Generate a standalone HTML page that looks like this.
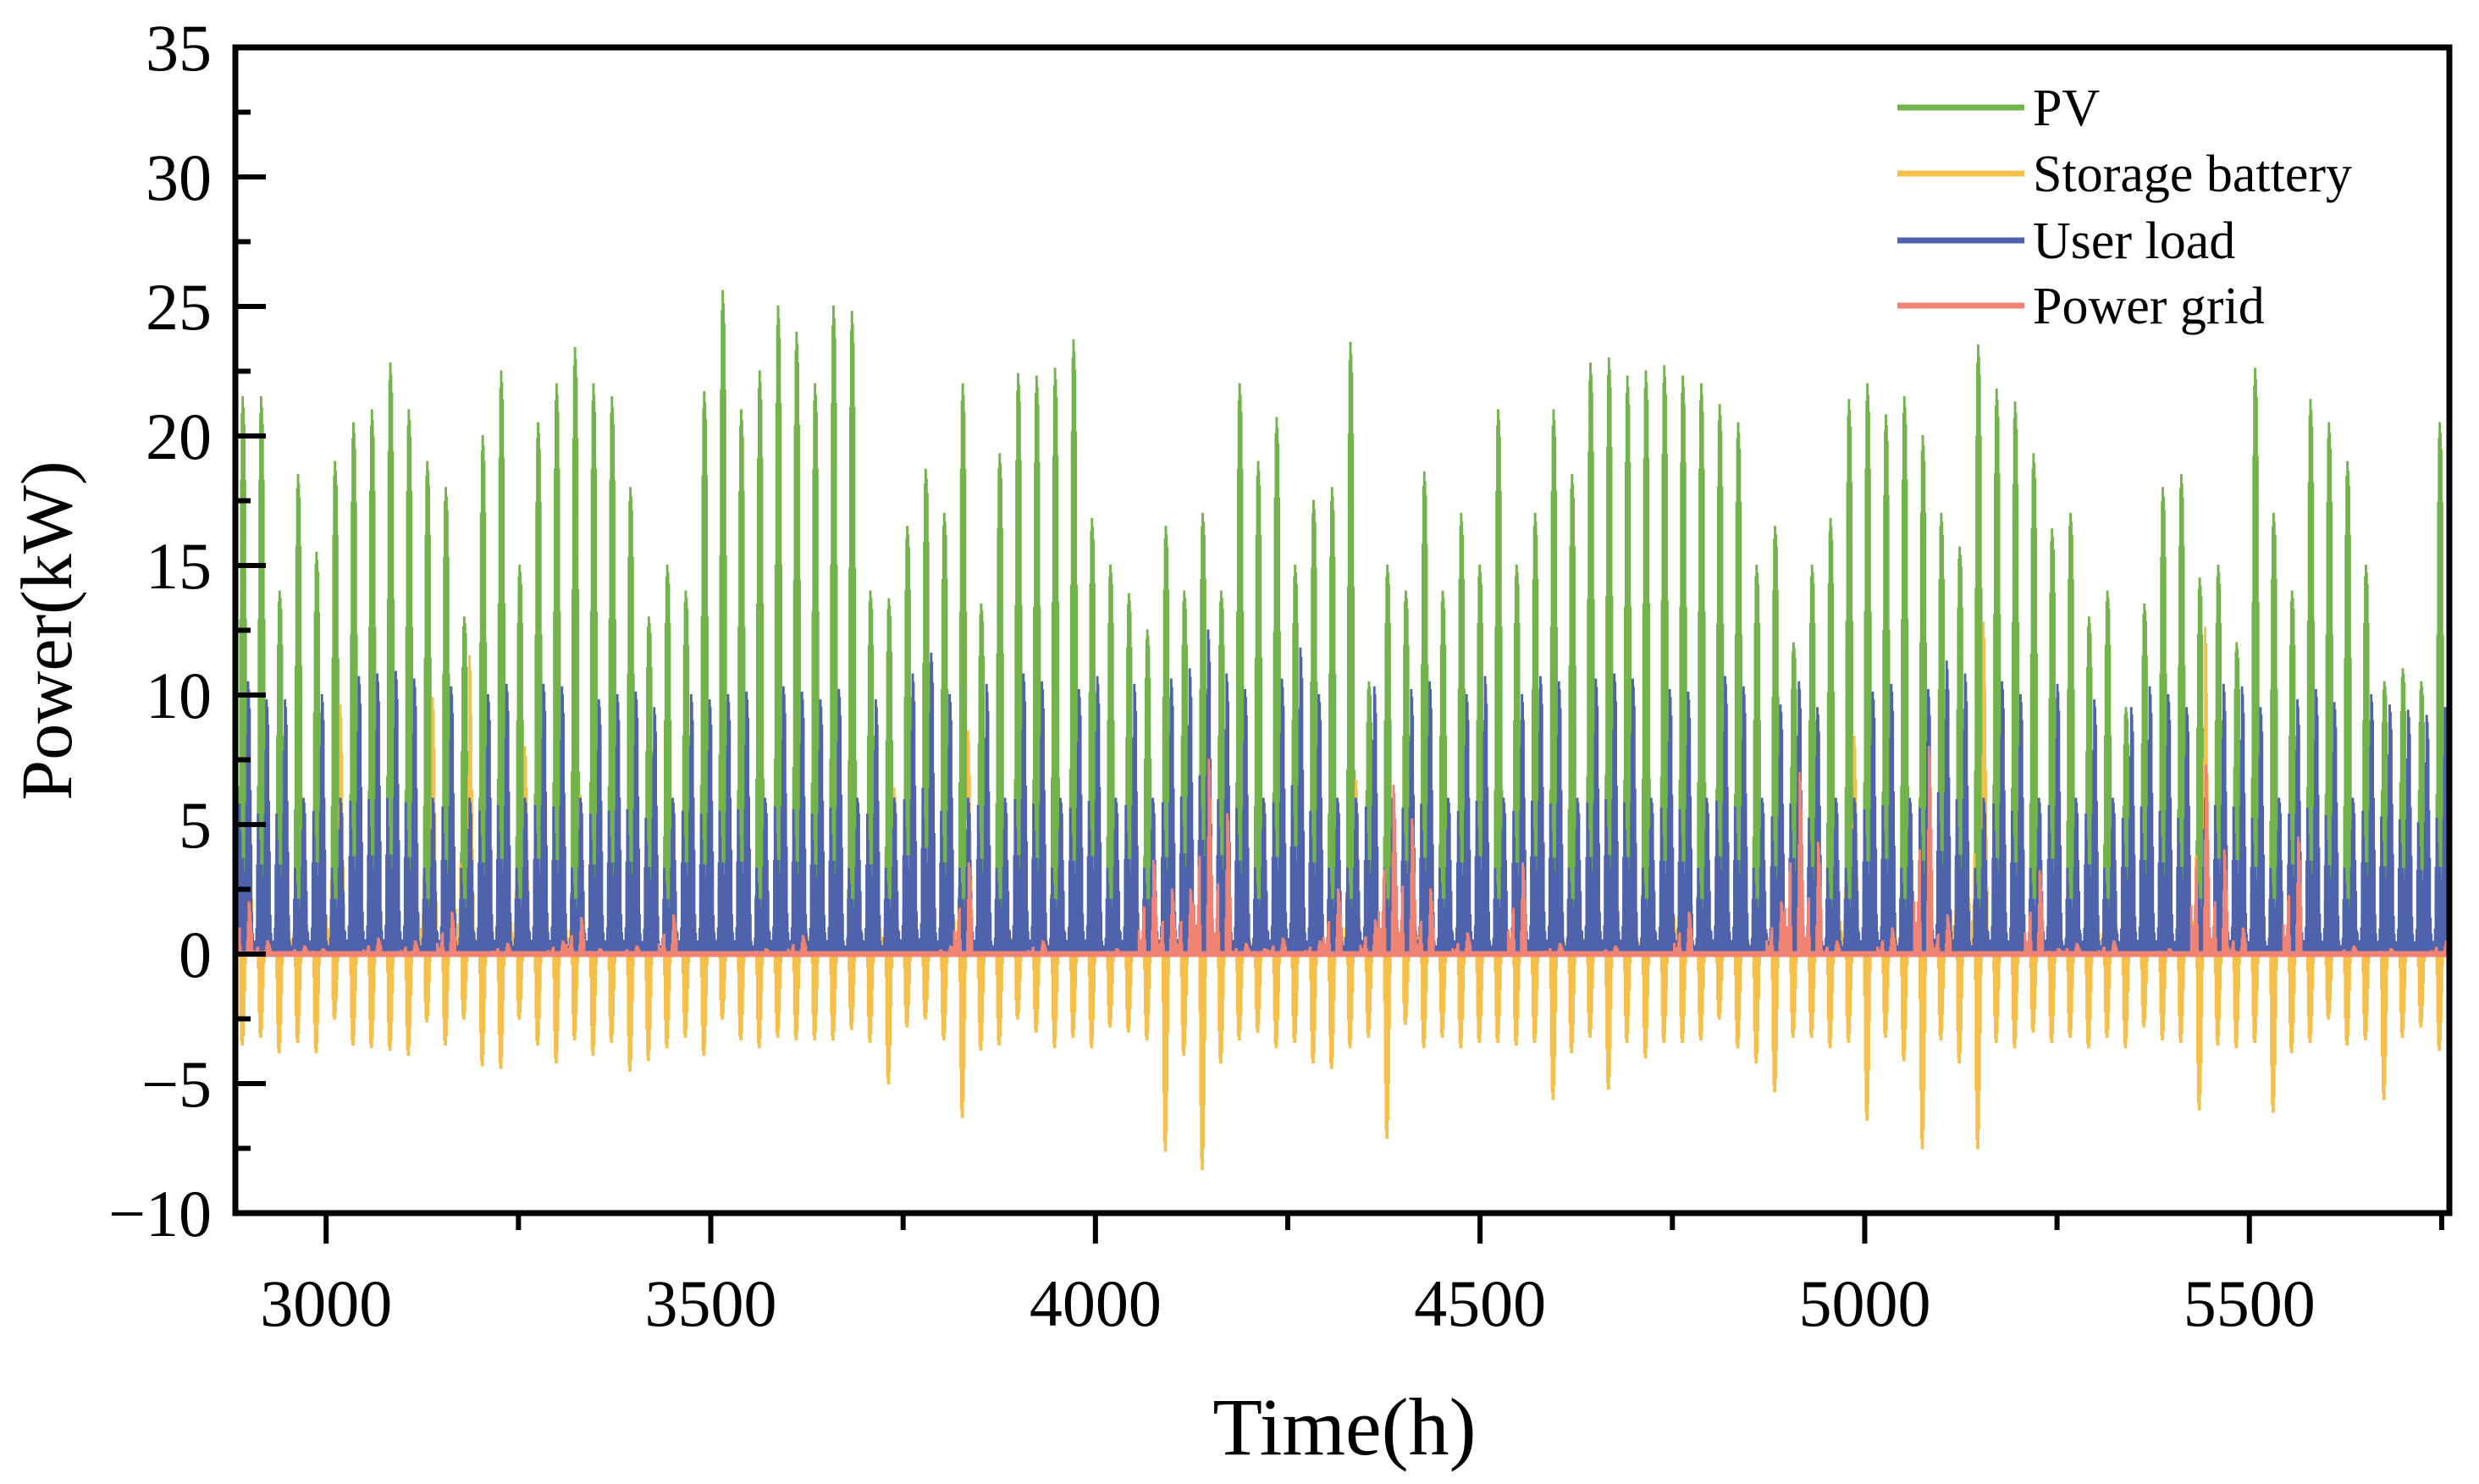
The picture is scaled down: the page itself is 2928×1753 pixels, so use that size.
<!DOCTYPE html>
<html><head><meta charset="utf-8">
<style>
html,body{margin:0;padding:0;background:#fff;}
svg{display:block;}
text{font-family:"Liberation Serif","Times New Roman",serif;fill:#000;}
</style></head>
<body>
<svg id="chart" width="2928" height="1753" viewBox="0 0 2928 1753" xmlns="http://www.w3.org/2000/svg">
<g id="marks"></g>
<g id="axes"></g>
<g id="legend">
  <line x1="2241" y1="127" x2="2391" y2="127" stroke="#72b34b" stroke-width="7"/>
  <text x="2401" y="148" font-size="62">PV</text>
  <line x1="2241" y1="205" x2="2391" y2="205" stroke="#f5c04a" stroke-width="7"/>
  <text x="2401" y="226" font-size="62">Storage battery</text>
  <line x1="2241" y1="284" x2="2391" y2="284" stroke="#4f63ad" stroke-width="7"/>
  <text x="2401" y="305" font-size="62">User load</text>
  <line x1="2241" y1="361" x2="2391" y2="361" stroke="#f08474" stroke-width="7"/>
  <text x="2401" y="382" font-size="62">Power grid</text>
</g>
<text x="1588" y="1718" font-size="96" text-anchor="middle">Time(h)</text>
<text transform="translate(84,745) rotate(-90)" font-size="86" text-anchor="middle">Power(kW)</text>
</svg>
<script>
const startHour = 2880;
const xTicks = [3000, 3500, 4000, 4500, 5000, 5500];
const yTicks = [35, 30, 25, 20, 15, 10, 5, 0, -5, -10];
const pvPeak = [21.5,21.5,14,18.5,15.5,19,20.5,21,22.8,21,19,18,13,20,22.5,15,20.5,22,23.4,22,21.5,18,13,15,14,21.7,25.6,21,22.5,25,24,22,25,24.8,14,13.7,16.5,18.7,17,22,13.5,19.3,22.4,22.3,22.6,23.7,16.8,15,13.9,12.5,16.5,14,17,14,22,19,20.7,15,17.5,18,23.6,10.5,15,14,18.6,14,17,15,21,15,17,21,18.5,22.8,23,22.3,22.5,22.7,22.3,22,21.2,20.5,15,16.5,12,15,16.8,21.4,22,20.8,21.5,20,17,15.7,23.5,21.8,21.3,19.3,16.4,17,13,14,9.5,13.5,18,18.5,14.5,15,12,22.6,17,14,21.4,20.5,19,15,10.5,11,10.5,20.5];
const loadPeak = [10.5,9.8,9.8,6,10,6,10.7,10.8,10.9,10.6,6,10.3,6,10,10.4,6,10.4,10.3,6,9.8,10,10.1,9.5,6,10,9.8,10,10.1,6,10.3,10.1,9.8,10.2,6,9.8,6,10.8,11.6,10,6,10.4,6,10.8,10.5,6,10.2,10.7,6,10.4,6,10.6,11,12.5,10.8,10.2,6,10.6,11.8,10,6,6,10.3,6,10.2,10.5,6,10,10.7,6,10,10.7,10.5,6,10.6,10.8,10.6,6,10.2,10.1,6,10.7,10.3,6,9.6,10.5,9.5,6,6,10.1,10.4,6,10.2,11.3,10.8,6,10.5,10,6,10.4,6,9.8,6,9.5,10.3,10,9.5,6,10.4,10.3,9.5,6,9.8,10.2,9.7,6,10,9.6,9.4,9.2,9.5];
const batMin = [-3.5,-3.2,-3.8,-3.4,-3.8,-2.5,-3.5,-3.6,-3.7,-3.9,-2.6,-3.5,-2.5,-4.3,-4.4,-2.5,-3.5,-4.2,-3.3,-3.9,-3.4,-4.5,-4.1,-3.6,-3.2,-3.9,-2.5,-3.3,-3.6,-3.2,-3.3,-3.3,-3.3,-2.9,-3.4,-5,-2.8,-2.5,-3.3,-6.3,-3.7,-3.5,-2.5,-3,-3.6,-3.2,-3.6,-2.8,-3,-3.3,-7.6,-3.9,-8.3,-4.2,-3.3,-3,-3.6,-3.4,-4.2,-4.4,-3.6,-3.2,-7.1,-2.7,-3.6,-3.2,-3.6,-3.4,-3.4,-3.5,-3.4,-5.6,-3.8,-3.2,-5.2,-3.4,-4,-3.4,-3.4,-3.3,-2.5,-3.6,-4.2,-5.3,-3.2,-3.2,-3.6,-3.4,-6.4,-3.2,-4.1,-7.5,-3.3,-4.2,-7.5,-3.4,-3.6,-3,-3.4,-3.2,-3.6,-3.2,-3.6,-2.8,-3.3,-3.4,-6,-3.5,-3.6,-3.4,-6.1,-3.8,-3.4,-2.5,-3.5,-3.3,-5.6,-3.2,-2.8,-3.7];
const batMax = [10.5,4.3,2,5.6,2.7,9.6,3,3.2,4.3,2,9.9,3.6,11.5,5.6,3.2,8,3.6,3.4,6.1,3,4,5.4,2.6,2.8,2.5,3.2,5.7,3.4,3.2,2.4,3.4,6.3,2.3,2,5.2,6.4,2.8,3,4,8.6,2,2.6,6.3,3,3.5,3.3,2.5,2.4,3.3,4,4.8,3.1,3.2,7.2,3.5,3.9,3.4,4.8,2.8,3,6.7,2.8,3.4,8.5,7.1,3,3,3.3,3.5,6.2,2.8,3.5,4.2,5.9,3.5,3.8,4.2,3.4,9.3,3.6,4.3,3,3.6,6.3,2.6,3.2,3.1,8.4,3.6,2.4,4.1,5.3,4.7,10.8,12.8,3.4,2.8,3.6,4.2,3.5,3,5.3,3.1,2.7,3,4,12.6,3.3,4.3,3.4,3.1,4.4,3.5,3.3,3.4,3,3.3,4.2,3.6,3.4];
const gridPeak = [2,0.5,0,0.3,0.2,0,0,0.6,0,0.5,0,1.6,0,0,0.4,0,0,0.5,1.4,0.2,0,0.3,0,1.5,0,0,0,0,0.2,0,0.7,0,0,0,0,0,0,0,0.3,3.5,0,0,0,0.5,0,0,0,0.2,0,3.6,2.5,2.5,7.5,5.4,0.4,0.2,0.6,0,0.5,2.5,0,1.3,6.5,5.2,2.5,0,0.8,0,0,3.5,0,0.4,0,0,0.3,0,0,0,1.6,0,0,0,0,2,7,4.3,0.5,0,0,1,0,8,1.5,0,0,0,0,3.2,0.2,0.4,0,0.5,0,0,0.2,0,7.3,4,1,0,0,4.5,0,0,0.3,0,0.2,0,0,0.5,0.3,0];
// intraday normalized shapes (hour 0..23)
const pvShape = [0,0,0,0,0,0,0.1,0.3,0.6,0.85,0.97,1,0.98,0.95,0.85,0.6,0.3,0.1,0,0,0,0,0,0];
const loadShape = [0.08,0.05,0.05,0.05,0.05,0.1,0.35,0.55,0.45,0.3,0.25,0.35,0.3,0.25,0.25,0.35,0.55,0.8,1,0.97,0.9,0.6,0.4,0.15];
const batChargeShape = [0,0,0,0,0,0,0,0.3,0.7,0.95,1,1,0.9,0.7,0.4,0.1,0,0,0,0,0,0,0,0];
const batDischargeShape = [0.15,0.1,0.08,0.08,0.1,0.15,0.3,0.1,0,0,0,0,0,0,0,0,0.25,0.6,1,0.95,0.8,0.55,0.35,0.2];
const gridShape = [0.25,0.15,0.1,0.1,0.15,0.25,0.45,0.5,0.15,0,0,0,0,0,0,0,0,0.25,0.6,1,0.95,0.8,0.6,0.4];

const X0=278, X1=2893, XMIN=2882, XMAX=5760;
const Y0=1127, PXU=30.6;
function xs(h){return X0+(h-XMIN)*(X1-X0)/(XMAX-XMIN);}
function ys(v){return Y0-v*PXU;}
const NS='http://www.w3.org/2000/svg';
const marks=document.getElementById('marks');
const axes=document.getElementById('axes');

function seriesPath(fn){
  const days=pvPeak.length;
  let d='M'+xs(startHour).toFixed(1)+','+ys(0).toFixed(1);
  for(let i=0;i<days;i++){
    for(let h=0;h<24;h++){
      const t=startHour+i*24+h;
      const v=fn(i,h);
      const x1=Math.max(X0,Math.min(X1,xs(t))), x2=Math.max(X0,Math.min(X1,xs(t+1)));
      d+='L'+x1.toFixed(1)+','+ys(v).toFixed(1)+'L'+x2.toFixed(1)+','+ys(v).toFixed(1);
    }
  }
  d+='L'+Math.min(X1,xs(startHour+days*24)).toFixed(1)+','+ys(0).toFixed(1)+'Z';
  return d;
}
function addSeries(name,color,fn){
  const p=document.createElementNS(NS,'path');
  p.setAttribute('d',seriesPath(fn));
  p.setAttribute('fill',color);
  p.setAttribute('stroke',color);
  p.setAttribute('stroke-width','2');
  p.setAttribute('stroke-linejoin','miter');
  
  
  marks.appendChild(p);
}
addSeries('pv-series','#72b34b',(i,h)=>pvPeak[i]*pvShape[h]);
addSeries('battery-series','#f5c04a',(i,h)=>batMin[i]*batChargeShape[h]+batMax[i]*batDischargeShape[h]);
addSeries('load-series','#4f63ad',(i,h)=>loadPeak[i]*loadShape[h]);
addSeries('grid-series','#f08474',(i,h)=>gridPeak[i]*gridShape[h]);

const zl=document.createElementNS(NS,'line');
zl.setAttribute('x1',X0);zl.setAttribute('x2',X1);zl.setAttribute('y1',ys(0));zl.setAttribute('y2',ys(0));
zl.setAttribute('stroke','#f08474');zl.setAttribute('stroke-width','7');


marks.appendChild(zl);

const frame=document.createElementNS(NS,'rect');
frame.setAttribute('x',X0);frame.setAttribute('y',ys(35));
frame.setAttribute('width',X1-X0);frame.setAttribute('height',ys(-10)-ys(35));
frame.setAttribute('fill','none');frame.setAttribute('stroke','#000');frame.setAttribute('stroke-width','7');


axes.appendChild(frame);

function line(x1,y1,x2,y2,name){
  const l=document.createElementNS(NS,'line');
  l.setAttribute('x1',x1);l.setAttribute('y1',y1);l.setAttribute('x2',x2);l.setAttribute('y2',y2);
  l.setAttribute('stroke','#000');l.setAttribute('stroke-width','6');
  
  
  axes.appendChild(l);
}
yTicks.forEach(v=>{
  const y=ys(v);
  line(X0,y,X0+36,y,'y-tick');
  if(v>-10){line(X0,y+2.5*PXU,X0+18,y+2.5*PXU,'y-minor-tick');}
  const t=document.createElementNS(NS,'text');
  t.setAttribute('x',250);t.setAttribute('y',y+27);
  t.setAttribute('font-size','78');t.setAttribute('text-anchor','end');
  t.textContent=v<0?'\u2212'+Math.abs(v):String(v);
  
  
  axes.appendChild(t);
});
xTicks.forEach(v=>{
  const x=xs(v);
  line(x,ys(-10),x,ys(-10)+36,'x-tick');
  const t=document.createElementNS(NS,'text');
  t.setAttribute('x',x);t.setAttribute('y',1566);
  t.setAttribute('font-size','78');t.setAttribute('text-anchor','middle');
  t.textContent=String(v);
  
  
  axes.appendChild(t);
});
[3250,3750,4250,4750,5250,5750].forEach(v=>{
  const x=xs(v);
  line(x,ys(-10),x,ys(-10)+20,'x-minor-tick');
});
</script>
</body></html>
